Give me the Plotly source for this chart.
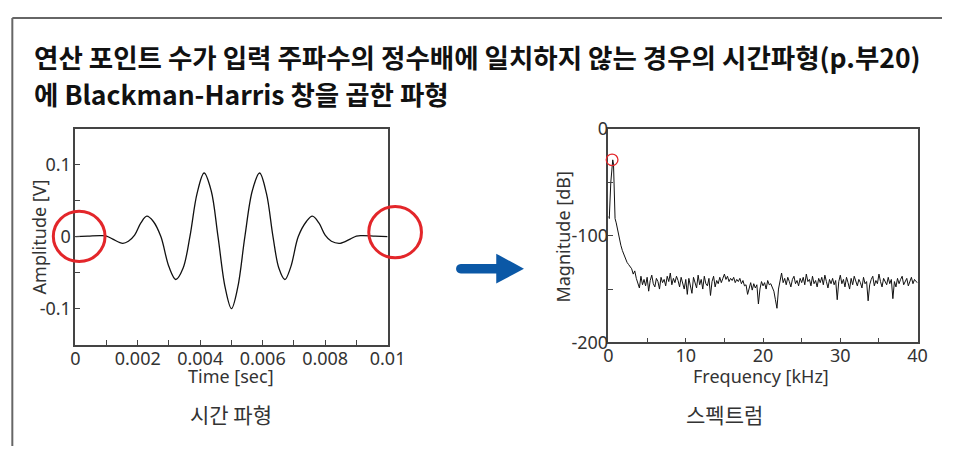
import plotly.graph_objects as go

W, H = 960, 457

# ---------------- data ----------------
title_lines = [
    "연산 포인트 수가 입력 주파수의 정수배에 일치하지 않는 경우의 시간파형(p.부20)",
    "에 Blackman-Harris 창을 곱한 파형",
]
caption_left = "시간 파형"
caption_right = "스펙트럼"

# time waveform
time_s = [0.0, 0.0004, 0.0008, 0.0010, 0.0012, 0.00152, 0.0017, 0.0019, 0.0021, 0.00229,
          0.0025, 0.00274, 0.0030, 0.00322, 0.00345, 0.00367, 0.0039, 0.004125, 0.00435,
          0.00457, 0.0048, 0.0050, 0.0052, 0.00543, 0.00567, 0.0059, 0.00612, 0.00633,
          0.00652, 0.00671, 0.0069, 0.00714, 0.0074, 0.00759, 0.0078, 0.0080, 0.0082,
          0.00848, 0.0088, 0.0090, 0.0092, 0.0096, 0.0100]
amplitude_v = [0.0, 0.0006, 0.0013, 0.0008, -0.0035, -0.0093, -0.0065, 0.002, 0.019, 0.0283,
               0.021, 0.0, -0.042, -0.0596, -0.044, 0.0, 0.060, 0.0883, 0.064,
               0.0, -0.071, -0.100, -0.071, 0.0, 0.064, 0.0883, 0.060, 0.0,
               -0.044, -0.0596, -0.042, 0.0, 0.021, 0.0283, 0.019, 0.002, -0.0065,
               -0.0093, -0.0035, 0.0008, 0.0013, 0.0006, 0.0]

# spectrum: main lobe region
peak_freq_khz = [0.0, 0.1, 0.3, 0.45, 0.55, 0.65, 0.75, 0.85, 1.0, 1.2, 1.4, 1.6, 1.8,
                 2.0, 2.2, 2.4, 2.6, 2.8]
peak_db = [-82, -84, -50, -31, -29, -33, -55, -84, -88, -96, -103, -109, -114,
           -118, -122, -125, -127, -129]
# spectrum: noise floor, sampled every 0.2 kHz from 3 kHz
floor_start_khz = 3.0
floor_step_khz = 0.2
floor_db = [
    -131, -136, -133, -140, -145,
    -149, -138, -146, -141, -147,
    -139, -152, -142, -137, -145,
    -148, -140, -143, -150, -139,
    -144, -141, -147, -138, -143,
    -135, -146, -140, -144, -138,
    -142, -148, -139, -145, -150,
    -141, -155, -140, -147, -154,
    -139, -144, -149, -137, -146,
    -141, -150, -138, -145, -147,
    -140, -156, -143, -138, -148,
    -142, -145, -139, -144, -140,
    -136, -141, -138, -143, -140,
    -142, -139, -144, -141, -143,
    -140, -145, -142, -147, -146,
    -155, -148, -144, -151, -145,
    -149, -146, -164, -150, -143,
    -147, -144, -150, -142, -146,
    -145, -149, -152, -160, -168,
    -150, -141, -135, -144, -140,
    -146, -139, -143, -148, -141,
    -138, -145, -142, -147, -140,
    -144, -139, -146, -136, -143,
    -141, -147, -138, -145, -142,
    -148, -140, -144, -139, -146,
    -137, -143, -149, -141, -145,
    -140, -146, -142, -160, -143,
    -137, -145, -141, -148, -139,
    -144, -150, -140, -146, -138,
    -142, -147, -141, -144, -149,
    -139, -145, -143, -161, -146,
    -141, -138, -147, -142, -145,
    -136, -143, -148, -140, -144,
    -146, -139, -145, -141, -159,
    -143, -148, -140, -145, -141,
    -138, -146, -143, -140, -147,
    -142, -139, -145, -141, -143,
    -144,
]

time_tick_vals = [0, 0.002, 0.004, 0.006, 0.008, 0.01]
time_tick_text = ["0", "0.002", "0.004", "0.006", "0.008", "0.01"]
amp_tick_vals = [-0.1, 0, 0.1]
amp_tick_text = ["-0.1", "0", "0.1"]
freq_tick_vals = [0, 10, 20, 30, 40]
freq_tick_text = ["0", "10", "20", "30", "40"]
mag_tick_vals = [-200, -100, 0]
mag_tick_text = ["-200", "-100", "0"]

freq_khz = peak_freq_khz + [round(floor_start_khz + i * floor_step_khz, 3) for i in range(len(floor_db))]
mag_db = peak_db + floor_db

# ---------------- helpers ----------------
def px(x):
    return x / W

def py(y):
    return 1 - y / H

AX = "#444444"
TXT = "#333333"
TICKFONT = dict(family="Noto Sans, sans-serif", size=18, color=TXT)

fig = go.Figure()
fig.add_trace(go.Scatter(x=time_s, y=amplitude_v, mode="lines",
                         line=dict(color="#111111", width=1.3, shape="spline", smoothing=1.0),
                         xaxis="x", yaxis="y", showlegend=False, hoverinfo="skip"))
fig.add_trace(go.Scatter(x=freq_khz, y=mag_db, mode="lines",
                         line=dict(color="#111111", width=1.0),
                         xaxis="x2", yaxis="y2", showlegend=False, hoverinfo="skip"))

common = dict(showgrid=False, zeroline=False, showline=True, linecolor=AX, linewidth=1.6,
              mirror=True, ticks="inside", ticklen=5, tickcolor=AX, tickwidth=1.2,
              tickfont=TICKFONT, fixedrange=True)

fig.update_layout(
    width=W, height=H,
    margin=dict(l=0, r=0, t=0, b=0),
    paper_bgcolor="white", plot_bgcolor="white",
    xaxis=dict(domain=[px(72), px(392)], anchor="y", range=[0, 0.01],
               tickmode="array", tickvals=time_tick_vals, ticktext=time_tick_text,
               minor=dict(dtick=0.001, tick0=0, ticks="inside", ticklen=5, tickcolor=AX, tickwidth=1.2),
               ticklabelstandoff=-3, **common),
    yaxis=dict(domain=[py(350), py(122)], anchor="x", range=[-0.15, 0.15],
               tickmode="array", tickvals=amp_tick_vals, ticktext=amp_tick_text,
               minor=dict(dtick=0.05, tick0=0, ticks="inside", ticklen=5, tickcolor=AX, tickwidth=1.2),
               ticklabelstandoff=-1, **common),
    xaxis2=dict(domain=[px(618.3), px(935)], anchor="y2", range=[0, 40],
                tickmode="array", tickvals=freq_tick_vals, ticktext=freq_tick_text,
                minor=dict(dtick=5, tick0=0, ticks="inside", ticklen=5, tickcolor=AX, tickwidth=1.2),
                ticklabelstandoff=-4, **common),
    yaxis2=dict(domain=[py(347.7), py(122.3)], anchor="x2", range=[-200, 0],
                tickmode="array", tickvals=mag_tick_vals, ticktext=mag_tick_text,
                minor=dict(dtick=50, tick0=0, ticks="inside", ticklen=5, tickcolor=AX, tickwidth=1.2),
                ticklabelstandoff=-5, **common),
)

annotations = []
def add_text(text, x, y, size, color=TXT, family="Noto Sans, sans-serif", angle=0,
             xanchor="center", yanchor="middle"):
    annotations.append(dict(text=text, x=px(x), y=py(y), xref="paper", yref="paper",
                            showarrow=False, textangle=angle, xanchor=xanchor, yanchor=yanchor,
                            borderpad=0,
                            font=dict(family=family, size=size, color=color)))

KR = "Noto Sans CJK KR, sans-serif"
add_text("<b>" + title_lines[0] + "</b>", 29, 46, 26.5, color="#111111", family=KR, xanchor="left")
add_text("<b>" + title_lines[1] + "</b>", 29, 85, 26.5, color="#111111", family=KR, xanchor="left")
add_text("Amplitude [V]", 35, 236.7, 18, angle=-90)
add_text("Time [sec]", 231.7, 383, 18)
add_text("Magnitude [dB]", 572, 236.7, 18, angle=-90)
add_text("Frequency [kHz]", 775, 383, 18)
add_text(caption_left, 231.5, 423, 21, family=KR)
add_text(caption_right, 736.7, 423, 21, family=KR)
fig.update_layout(annotations=annotations)

shapes = []
# outer frame (top and left edges)
shapes.append(dict(type="line", xref="paper", yref="paper", x0=px(7.5), x1=1, y0=py(5.3), y1=py(5.3),
                   line=dict(color="#666666", width=2)))
shapes.append(dict(type="line", xref="paper", yref="paper", x0=px(7.5), x1=px(7.5), y0=py(5.3), y1=0,
                   line=dict(color="#666666", width=2)))

def circle(cx, cy, r, width, color="#e3262a"):
    shapes.append(dict(type="circle", xref="paper", yref="paper",
                       x0=px(cx - r), x1=px(cx + r), y0=py(cy + r), y1=py(cy - r),
                       line=dict(color=color, width=width), layer="above"))

circle(76, 235.7, 26.5, 3)
circle(399.7, 231.3, 27, 3)
circle(622, 155, 6, 1.3)

# arrow
BLUE = "#0b58a6"
shaft = (f"M {px(505)},{py(265)} L {px(467)},{py(265)} "
         f"C {px(460.5)},{py(265)} {px(460.5)},{py(275)} {px(467)},{py(275)} "
         f"L {px(505)},{py(275)} Z")
head = f"M {px(503.3)},{py(254)} L {px(531.7)},{py(270)} L {px(503.3)},{py(285.5)} Z"
for p in (shaft, head):
    shapes.append(dict(type="path", xref="paper", yref="paper", path=p,
                       fillcolor=BLUE, line=dict(color=BLUE, width=0)))

fig.update_layout(shapes=shapes)

fig.write_html("out.html",
               config={"displayModeBar": False},
               post_script="document.body.style.margin='0';document.body.style.overflow='hidden';")
